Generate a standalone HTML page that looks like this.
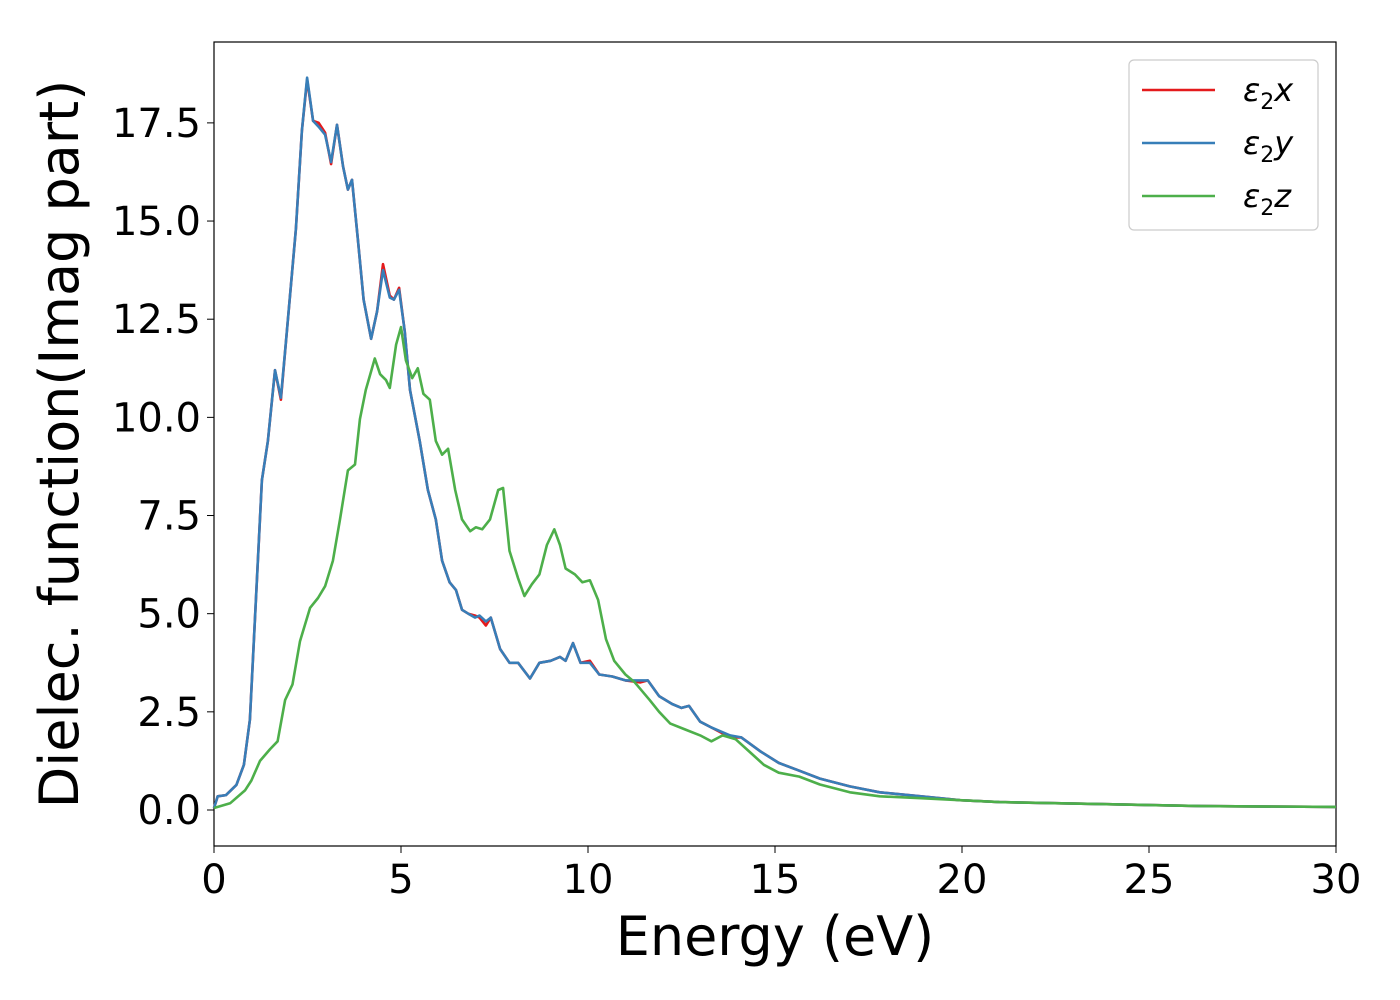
<!DOCTYPE html>
<html><head><meta charset="utf-8"><style>
html,body{margin:0;padding:0;background:#fff;}
svg{display:block;font-family:"DejaVu Sans","Liberation Sans",sans-serif;}
</style></head><body>
<svg id="chart" width="1400" height="1000" viewBox="0 0 1400 1000">
<rect x="214" y="42" width="1122" height="804" fill="#fff" stroke="#000" stroke-width="1.2"/>
<g id="xticks"></g>
<g id="yticks"></g>
<g id="series"></g>
<text x="775" y="955" font-size="54" text-anchor="middle">Energy (eV)</text>
<text transform="translate(78,444) rotate(-90)" font-size="54" text-anchor="middle">Dielec. function(Imag part)</text>
<g>
<rect x="1129" y="60" width="189" height="170" rx="5" fill="#fff" stroke="#ccc" stroke-width="1.2"/>
<line x1="1142" y1="90" x2="1215" y2="90" stroke="#e41a1c" stroke-width="2.5"/>
<text x="1243" y="101" font-size="32" font-style="italic">ε<tspan font-size="22" dy="8" font-style="normal">2</tspan><tspan dy="-8">x</tspan></text>
<line x1="1142" y1="143" x2="1215" y2="143" stroke="#377eb8" stroke-width="2.5"/>
<text x="1243" y="154" font-size="32" font-style="italic">ε<tspan font-size="22" dy="8" font-style="normal">2</tspan><tspan dy="-8">y</tspan></text>
<line x1="1142" y1="196" x2="1215" y2="196" stroke="#4daf4a" stroke-width="2.5"/>
<text x="1243" y="207" font-size="32" font-style="italic">ε<tspan font-size="22" dy="8" font-style="normal">2</tspan><tspan dy="-8">z</tspan></text>
</g>
</svg>
<script>
const xTicks=[0,5,10,15,20,25,30];
const yTicks=[0,2.5,5,7.5,10,12.5,15,17.5];
const yTickLabels=["0.0","2.5","5.0","7.5","10.0","12.5","15.0","17.5"];
const energyY=[0,0.1,0.32,0.6,0.8,0.96,1.12,1.28,1.44,1.63,1.79,1.95,2.19,2.35,2.49,2.65,2.8,2.97,3.13,3.29,3.45,3.58,3.69,3.85,4.0,4.2,4.36,4.52,4.7,4.81,4.95,5.1,5.24,5.5,5.72,5.93,6.1,6.3,6.47,6.63,6.8,6.98,7.1,7.27,7.4,7.65,7.9,8.13,8.45,8.7,9.0,9.25,9.4,9.6,9.8,10.05,10.3,10.65,11.0,11.4,11.6,11.9,12.25,12.5,12.7,13.0,13.3,13.8,14.1,14.6,15.1,15.65,16.2,17.0,17.8,18.9,19.95,21,23.7,26.4,30];
const eps2y=[0.05,0.35,0.38,0.64,1.15,2.3,5.35,8.4,9.4,11.2,10.5,12.2,14.8,17.3,18.65,17.55,17.4,17.2,16.5,17.45,16.4,15.8,16.05,14.5,13.0,12.0,12.7,13.75,13.05,13.0,13.25,12.2,10.7,9.4,8.15,7.4,6.35,5.8,5.6,5.1,5.0,4.9,4.95,4.8,4.9,4.1,3.75,3.75,3.35,3.75,3.8,3.9,3.8,4.25,3.75,3.75,3.45,3.4,3.3,3.3,3.3,2.9,2.7,2.6,2.65,2.25,2.1,1.9,1.85,1.5,1.2,1.0,0.8,0.6,0.45,0.35,0.25,0.2,0.15,0.1,0.08];
const eps2x=[0.05,0.35,0.38,0.64,1.15,2.3,5.35,8.4,9.4,11.2,10.45,12.2,14.8,17.3,18.6,17.55,17.5,17.25,16.45,17.45,16.4,15.8,16.05,14.5,13.0,12.0,12.7,13.9,13.1,13.0,13.3,12.2,10.7,9.4,8.15,7.4,6.35,5.8,5.6,5.1,5.0,4.95,4.9,4.7,4.9,4.1,3.75,3.75,3.35,3.75,3.8,3.9,3.8,4.25,3.75,3.8,3.45,3.4,3.3,3.25,3.3,2.9,2.7,2.6,2.65,2.25,2.1,1.85,1.85,1.5,1.2,1.0,0.8,0.6,0.45,0.35,0.25,0.2,0.15,0.1,0.08];
const energyZ=[0,0.43,0.83,1.0,1.23,1.5,1.7,1.9,2.1,2.3,2.57,2.78,2.97,3.18,3.37,3.58,3.77,3.9,4.06,4.3,4.44,4.6,4.7,4.87,5.0,5.13,5.3,5.45,5.6,5.77,5.93,6.1,6.26,6.45,6.63,6.85,7.0,7.17,7.38,7.6,7.73,7.9,8.13,8.3,8.5,8.7,8.9,9.1,9.25,9.4,9.65,9.85,10.05,10.27,10.48,10.7,11.0,11.25,11.65,11.9,12.2,12.6,13.0,13.3,13.6,13.95,14.3,14.7,15.1,15.65,16.2,17.0,17.8,18.9,19.95,21,23.7,26.4,30];
const eps2z=[0.05,0.17,0.5,0.75,1.25,1.55,1.75,2.8,3.2,4.3,5.15,5.4,5.7,6.35,7.4,8.65,8.8,9.95,10.7,11.5,11.1,10.95,10.75,11.85,12.3,11.45,11.0,11.25,10.6,10.45,9.4,9.05,9.2,8.15,7.4,7.1,7.2,7.15,7.4,8.15,8.2,6.6,5.9,5.45,5.75,6.0,6.75,7.15,6.75,6.15,6.0,5.8,5.85,5.35,4.35,3.8,3.45,3.25,2.8,2.5,2.2,2.05,1.9,1.75,1.9,1.8,1.5,1.15,0.95,0.85,0.65,0.45,0.35,0.3,0.25,0.2,0.15,0.1,0.08];

const NS="http://www.w3.org/2000/svg";
const X0=214,X1=1336,YT=42,YB=846,XMIN=0,XMAX=30,YMIN=-0.917,YMAX=19.56;
function sx(v){return X0+(v-XMIN)/(XMAX-XMIN)*(X1-X0);}
function sy(v){return YB-(v-YMIN)/(YMAX-YMIN)*(YB-YT);}
const xg=document.getElementById('xticks'),yg=document.getElementById('yticks'),sg=document.getElementById('series');
xTicks.forEach(t=>{
  const l=document.createElementNS(NS,'line');
  l.setAttribute('x1',sx(t));l.setAttribute('x2',sx(t));l.setAttribute('y1',YB);l.setAttribute('y2',YB+7);l.setAttribute('stroke','#000');
  
  
  xg.appendChild(l);
  const tx=document.createElementNS(NS,'text');
  tx.setAttribute('x',sx(t));tx.setAttribute('y',893);tx.setAttribute('font-size','40');tx.setAttribute('text-anchor','middle');
  tx.textContent=String(t);
  
  
  xg.appendChild(tx);
});
yTicks.forEach((t,i)=>{
  const l=document.createElementNS(NS,'line');
  l.setAttribute('x1',X0-7);l.setAttribute('x2',X0);l.setAttribute('y1',sy(t));l.setAttribute('y2',sy(t));l.setAttribute('stroke','#000');
  
  
  yg.appendChild(l);
  const tx=document.createElementNS(NS,'text');
  tx.setAttribute('x',X0-13);tx.setAttribute('y',sy(t)+14);tx.setAttribute('font-size','40');tx.setAttribute('text-anchor','end');
  tx.textContent=yTickLabels[i];
  
  
  yg.appendChild(tx);
});
function drawLine(xs,ys,color,name){
  const p=document.createElementNS(NS,'polyline');
  p.setAttribute('points',xs.map((e,i)=>sx(e).toFixed(1)+','+sy(ys[i]).toFixed(1)).join(' '));
  p.setAttribute('fill','none');p.setAttribute('stroke',color);p.setAttribute('stroke-width','2.6');p.setAttribute('stroke-linejoin','round');
  
  
  sg.appendChild(p);
}
drawLine(energyY,eps2x,'#e41a1c','series-eps2x');
drawLine(energyY,eps2y,'#377eb8','series-eps2y');
drawLine(energyZ,eps2z,'#4daf4a','series-eps2z');
</script>
</body></html>
